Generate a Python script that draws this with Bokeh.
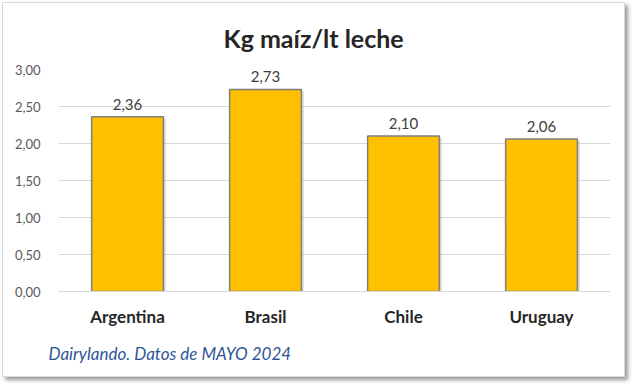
from bokeh.plotting import figure
from bokeh.models import ColumnDataSource, Range1d, FixedTicker, CustomJSTickFormatter, Title
from bokeh.transform import dodge
from bokeh.embed import file_html
from bokeh.resources import INLINE

categories = ["Argentina", "Brasil", "Chile", "Uruguay"]
values = [2.36, 2.73, 2.10, 2.06]
value_labels = ["2,36", "2,73", "2,10", "2,06"]
y_ticks = [0, 0.5, 1.0, 1.5, 2.0, 2.5, 3.0]
title_text = "Kg maíz/lt leche"
footer_text = "Dairylando. Datos de MAYO 2024"

src = ColumnDataSource(dict(cat=categories, val=values, lab=value_labels,
                            shadow=[v - 0.025 for v in values]))

p = figure(x_range=categories, y_range=Range1d(0, 3.0), width=623, height=375,
           output_backend="svg", toolbar_location=None,
           min_border_left=55, min_border_right=16, min_border_top=64, min_border_bottom=87)
p.background_fill_color = "white"
p.border_fill_color = "white"
p.outline_line_color = None
p.styles = {"border": "1px solid #D9D9D9", "box-shadow": "3px 3px 4px #9a9a9a",
            "margin-left": "2px", "margin-top": "2px"}

p.title.text = title_text
p.title.align = "left"
p.title.offset = 165
p.title.text_font = "Lato"
p.title.text_font_size = "25px"
p.title.text_font_style = "bold"
p.title.text_color = "#262626"
p.title.standoff = 34

footer = Title(text=footer_text, align="left", offset=-10, text_font="Lato",
               text_font_size="17px", text_font_style="italic", text_color="#2F5597",
               standoff=22)
p.add_layout(footer, "below")

p.vbar(x=dodge("cat", 0.018, range=p.x_range), top="shadow", width=0.52, source=src,
       fill_color="#9E9E9E", fill_alpha=0.35, line_color=None)
p.vbar(x="cat", top="val", width=0.52, source=src, fill_color="#FFC000",
       line_color="#7F7F7F", line_width=1.5)
p.text(x="cat", y="val", text="lab", source=src, text_align="center",
       text_baseline="bottom", y_offset=-7, text_font_size="15px",
       text_color="#404040", text_font={"value": "Lato"})

p.yaxis.ticker = FixedTicker(ticks=y_ticks)
p.yaxis.formatter = CustomJSTickFormatter(code="return tick.toFixed(2).replace('.', ',');")
p.yaxis.axis_line_color = None
p.yaxis.major_tick_line_color = None
p.yaxis.minor_tick_line_color = None
p.yaxis.major_label_standoff = 12
p.yaxis.major_label_text_font = "Lato"
p.yaxis.major_label_text_font_size = "13px"
p.yaxis.major_label_text_color = "#595959"

p.xaxis.axis_line_color = "#D9D9D9"
p.xaxis.major_tick_line_color = None
p.xaxis.minor_tick_line_color = None
p.xaxis.major_label_standoff = 8
p.xaxis.major_label_text_font = "Lato"
p.xaxis.major_label_text_font_size = "17px"
p.xaxis.major_label_text_font_style = "bold"
p.xaxis.major_label_text_color = "#262626"

p.xgrid.grid_line_color = None
p.ygrid.grid_line_color = "#D9D9D9"
p.ygrid.ticker = FixedTicker(ticks=y_ticks)

open("out.html", "w").write(file_html(p, INLINE))
